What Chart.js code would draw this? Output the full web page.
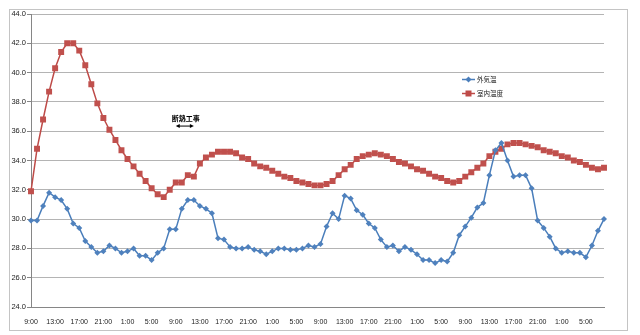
<!DOCTYPE html>
<html lang="ja">
<head>
  <meta charset="UTF-8">
  <title>外気温・室内温度</title>
  <script src="https://cdn.jsdelivr.net/npm/chart.js"></script>
  <style>
    html, body {
      margin: 0;
      padding: 0;
      background: #fff;
    }
    .wrap {
      width: 640px;
      height: 335px;
    }
  </style>
</head>
<body>
  <div class="wrap">
    <canvas id="tempChart" width="640" height="335"></canvas>
  </div>

  <script>
    // 時刻（1時間ごと、9:00 から 4日分）
    const hours = [
      '9:00','10:00','11:00','12:00','13:00','14:00','15:00','16:00','17:00','18:00','19:00','20:00','21:00','22:00','23:00',
      '0:00','1:00','2:00','3:00','4:00','5:00','6:00','7:00','8:00','9:00','10:00','11:00','12:00','13:00','14:00','15:00','16:00','17:00','18:00','19:00','20:00','21:00','22:00','23:00',
      '0:00','1:00','2:00','3:00','4:00','5:00','6:00','7:00','8:00','9:00','10:00','11:00','12:00','13:00','14:00','15:00','16:00','17:00','18:00','19:00','20:00','21:00','22:00','23:00',
      '0:00','1:00','2:00','3:00','4:00','5:00','6:00','7:00','8:00','9:00','10:00','11:00','12:00','13:00','14:00','15:00','16:00','17:00','18:00','19:00','20:00','21:00','22:00','23:00',
      '0:00','1:00','2:00','3:00','4:00','5:00','6:00','7:00','8:00'
    ];

    const outdoor = [
      29.9, 29.9, 30.9, 31.8, 31.5, 31.3, 30.7, 29.7, 29.4, 28.5, 28.1, 27.7, 27.8, 28.2, 28.0,
      27.7, 27.8, 28.0, 27.5, 27.5, 27.2, 27.7, 28.0, 29.3, 29.3, 30.7, 31.3, 31.3, 30.9, 30.7, 30.4, 28.7, 28.6, 28.1, 28.0, 28.0, 28.1, 27.9, 27.8,
      27.6, 27.8, 28.0, 28.0, 27.9, 27.9, 28.0, 28.2, 28.1, 28.3, 29.5, 30.4, 30.0, 31.6, 31.4, 30.6, 30.3, 29.7, 29.4, 28.6, 28.1, 28.2, 27.8, 28.1,
      27.9, 27.6, 27.2, 27.2, 27.0, 27.2, 27.1, 27.7, 28.9, 29.5, 30.1, 30.8, 31.1, 33.0, 34.7, 35.2, 34.0, 32.9, 33.0, 33.0, 32.1, 29.9, 29.4, 28.8,
      28.0, 27.7, 27.8, 27.7, 27.7, 27.4, 28.2, 29.2, 30.0
    ];

    const indoor = [
      31.9, 34.8, 36.8, 38.7, 40.3, 41.4, 42.0, 42.0, 41.5, 40.5, 39.2, 37.9, 36.9, 36.1, 35.4,
      34.7, 34.1, 33.6, 33.1, 32.6, 32.1, 31.7, 31.5, 32.0, 32.5, 32.5, 33.0, 32.9, 33.8, 34.2, 34.4, 34.6, 34.6, 34.6, 34.5, 34.2, 34.1, 33.8, 33.6,
      33.5, 33.3, 33.1, 32.9, 32.8, 32.6, 32.5, 32.4, 32.3, 32.3, 32.4, 32.6, 33.0, 33.4, 33.7, 34.1, 34.3, 34.4, 34.5, 34.4, 34.3, 34.1, 33.9, 33.8,
      33.6, 33.4, 33.3, 33.1, 32.9, 32.8, 32.6, 32.5, 32.6, 32.9, 33.2, 33.5, 33.8, 34.3, 34.6, 34.8, 35.1, 35.2, 35.2, 35.1, 35.0, 34.9, 34.7, 34.6,
      34.5, 34.3, 34.2, 34.0, 33.9, 33.7, 33.5, 33.4, 33.5
    ];

    const seriesNames = ['外気温', '室内温度'];

    // 断熱工事の期間（時刻インデックス）
    const workStart = 24;
    const workEnd = 27;

    const BLUE = '#4A7EBB';
    const RED = '#BE4B48';

    // 外枠・凡例・注記を描く
    const decorations = {
      id: 'decorations',
      beforeDraw(chart) {
        const c = chart.ctx;
        c.save();
        c.fillStyle = '#fff';
        c.fillRect(0, 0, chart.width, chart.height);
        c.strokeStyle = '#c4c4c4';
        c.lineWidth = 1;
        c.strokeRect(9.5, 9.5, 618, 321);
        c.restore();
      },
      afterDraw(chart) {
        const c = chart.ctx;
        const x = chart.scales.x;
        const y = chart.scales.y;
        c.save();

        // 凡例
        const items = [
          { name: seriesNames[0], color: BLUE, y: 79.5, shape: 'diamond' },
          { name: seriesNames[1], color: RED, y: 93.5, shape: 'square' }
        ];
        c.font = '6.5px "Noto Sans CJK JP"';
        c.textBaseline = 'middle';
        items.forEach(it => {
          c.strokeStyle = it.color;
          c.lineWidth = 1.5;
          c.beginPath();
          c.moveTo(462, it.y);
          c.lineTo(475, it.y);
          c.stroke();
          c.fillStyle = it.color;
          c.beginPath();
          if (it.shape === 'diamond') {
            c.moveTo(468.5, it.y - 3);
            c.lineTo(471.5, it.y);
            c.lineTo(468.5, it.y + 3);
            c.lineTo(465.5, it.y);
            c.closePath();
          } else {
            c.rect(465.5, it.y - 3, 6, 6);
          }
          c.fill();
          c.fillStyle = '#222';
          c.fillText(it.name, 477, it.y);
        });

        // 断熱工事の矢印
        const x0 = x.getPixelForValue(workStart);
        const x1 = x.getPixelForValue(workEnd);
        const ya = y.getPixelForValue(36.35);
        c.strokeStyle = '#000';
        c.fillStyle = '#000';
        c.lineWidth = 1;
        c.beginPath();
        c.moveTo(x0 + 2, ya);
        c.lineTo(x1 - 2, ya);
        c.stroke();
        [[x0, 1], [x1, -1]].forEach(([px, dir]) => {
          c.beginPath();
          c.moveTo(px, ya);
          c.lineTo(px + 4 * dir, ya - 2);
          c.lineTo(px + 4 * dir, ya + 2);
          c.closePath();
          c.fill();
        });
        c.font = 'bold 7px "Noto Sans CJK JP"';
        c.textAlign = 'center';
        c.textBaseline = 'middle';
        c.fillText('断熱工事', (x0 + x1) / 2 + 1, y.getPixelForValue(36.9));

        c.restore();
      }
    };

    new Chart(document.getElementById('tempChart'), {
      type: 'line',
      data: {
        labels: hours,
        datasets: [
          {
            label: seriesNames[0],
            data: outdoor,
            borderColor: BLUE,
            backgroundColor: '#4F81BD',
            borderWidth: 1.5,
            pointStyle: 'rectRot',
            pointRadius: 3,
            pointBorderWidth: 0,
            tension: 0
          },
          {
            label: seriesNames[1],
            data: indoor,
            borderColor: RED,
            backgroundColor: '#C0504D',
            borderWidth: 1.5,
            pointStyle: 'rect',
            pointRadius: 4.2,
            pointBorderWidth: 0,
            tension: 0
          }
        ]
      },
      options: {
        responsive: false,
        animation: false,
        layout: {
          padding: { top: 14, right: 36, left: 0, bottom: 0 }
        },
        plugins: {
          legend: { display: false },
          tooltip: { enabled: false }
        },
        scales: {
          x: {
            offset: false,
            grid: { display: false },
            border: { display: true, color: '#868686', width: 1 },
            ticks: {
              autoSkip: false,
              maxRotation: 0,
              padding: 3,
              color: '#222',
              font: { family: '"Liberation Sans Narrow", "Liberation Sans"', size: 7 },
              callback: (v, i) => (i % 4 === 0 ? hours[i] : '')
            },
            afterFit: scale => { scale.height = 28; }
          },
          y: {
            min: 24,
            max: 44,
            ticks: {
              stepSize: 2,
              padding: 1,
              color: '#222',
              font: { family: '"Liberation Sans"', size: 7.5 },
              callback: v => v.toFixed(1)
            },
            grid: { color: '#b4b4b4', tickLength: 4, tickColor: '#868686' },
            border: { display: true, color: '#868686', width: 1 },
            afterFit: scale => { scale.width = 31; }
          }
        }
      },
      plugins: [decorations]
    });
  </script>
</body>
</html>
